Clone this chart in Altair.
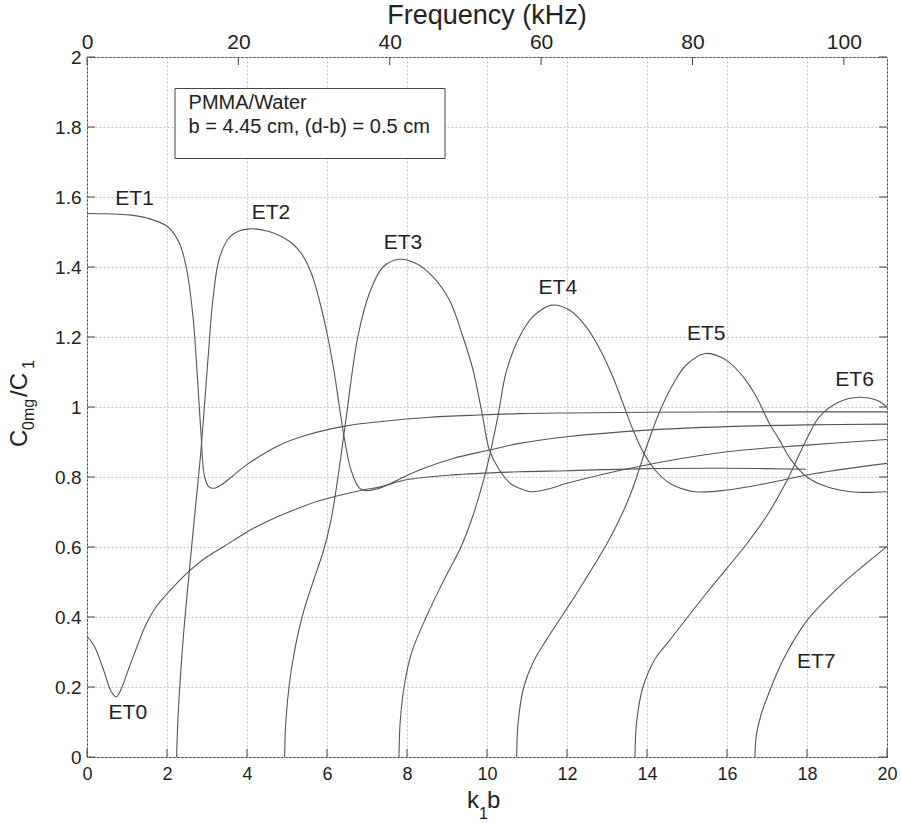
import altair as alt
import pandas as pd

FONT = "Liberation Sans"
INK = "#222222"
LINE = "#555555"
FRAME = "#444444"

# ---------------- data ----------------
curve_names = ["ET0", "ET1", "ET2", "ET3", "ET4", "ET5", "ET6", "ET7"]

et0_k = [0, 0.19, 0.44, 0.6, 0.73, 0.85, 1.06, 1.3, 1.42, 1.55, 1.72, 1.95, 2.25, 2.56, 3.0, 3.4, 4.0, 4.5, 5.0, 5.81, 6.9, 7.31, 7.98, 9.14, 10.81, 12.0, 14.0, 16.0, 17.98]
et0_c = [0.345, 0.315, 0.24, 0.188, 0.172, 0.193, 0.258, 0.33, 0.365, 0.395, 0.428, 0.46, 0.497, 0.532, 0.572, 0.60, 0.643, 0.673, 0.698, 0.732, 0.763, 0.771, 0.792, 0.806, 0.815, 0.818, 0.824, 0.825, 0.822]

et1_k = [0, 0.5, 1.06, 1.5, 2.02, 2.31, 2.48, 2.65, 2.77, 2.85, 2.94, 3.05, 3.19, 3.35, 3.56, 3.98, 4.81, 5.5, 6.48, 7.31, 8.5, 9.8, 10.81, 12, 14, 16, 18, 20]
et1_c = [1.553, 1.552, 1.549, 1.54, 1.515, 1.468, 1.40, 1.258, 1.067, 0.925, 0.80, 0.772, 0.768, 0.777, 0.795, 0.834, 0.891, 0.92, 0.946, 0.958, 0.97, 0.977, 0.981, 0.983, 0.985, 0.986, 0.986, 0.986]

et2_k = [2.24, 2.27, 2.33, 2.42, 2.56, 2.7, 2.85, 3.02, 3.15, 3.31, 3.56, 3.8, 4.06, 4.5, 4.81, 5.1, 5.35, 5.6, 5.82, 6.02, 6.18, 6.31, 6.45, 6.6, 6.81, 6.98, 7.31, 7.48, 8.31, 9.15, 10.06, 10.81, 12, 14, 16, 18, 20]
et2_c = [0, 0.1, 0.22, 0.36, 0.534, 0.7, 0.877, 1.13, 1.31, 1.425, 1.485, 1.503, 1.509, 1.503, 1.49, 1.47, 1.44, 1.385, 1.3, 1.2, 1.1, 1.0, 0.9, 0.82, 0.768, 0.761, 0.768, 0.776, 0.82, 0.853, 0.877, 0.896, 0.915, 0.934, 0.944, 0.949, 0.951]

et3_k = [4.94, 4.97, 5.06, 5.2, 5.4, 5.65, 5.9, 6.1, 6.3, 6.48, 6.77, 7.06, 7.4, 7.81, 8.23, 8.65, 9.06, 9.4, 9.65, 9.88, 10.06, 10.31, 10.6, 10.81, 11.07, 11.5, 12, 13.7, 16, 18, 20]
et3_c = [0, 0.1, 0.21, 0.31, 0.41, 0.50, 0.585, 0.677, 0.82, 0.97, 1.2, 1.325, 1.40, 1.422, 1.41, 1.372, 1.306, 1.2, 1.106, 0.98, 0.877, 0.82, 0.78, 0.768, 0.758, 0.765, 0.782, 0.828, 0.872, 0.891, 0.907]

et4_k = [7.8, 7.83, 7.94, 8.12, 8.48, 8.9, 9.36, 9.65, 9.98, 10.27, 10.48, 10.81, 11.15, 11.62, 12.06, 12.48, 12.81, 13.15, 13.4, 13.65, 13.9, 14.2, 14.6, 15.2, 16, 17, 18.2, 20]
et4_c = [0, 0.1, 0.21, 0.30, 0.40, 0.50, 0.603, 0.69, 0.82, 0.972, 1.1, 1.2, 1.258, 1.291, 1.277, 1.229, 1.168, 1.085, 1.01, 0.935, 0.872, 0.82, 0.78, 0.758, 0.763, 0.782, 0.81, 0.839]

et5_k = [10.74, 10.78, 10.92, 11.15, 11.48, 12.2, 13.0, 13.4, 13.65, 14.0, 14.31, 14.65, 14.98, 15.46, 15.98, 16.4, 16.73, 17.06, 17.31, 17.6, 18.0, 18.5, 19.1, 19.5, 20]
et5_c = [0, 0.1, 0.2, 0.27, 0.334, 0.46, 0.61, 0.70, 0.77, 0.89, 0.985, 1.065, 1.12, 1.153, 1.134, 1.087, 1.03, 0.953, 0.906, 0.849, 0.80, 0.772, 0.758, 0.756, 0.758]

et6_k = [13.7, 13.74, 13.9, 14.2, 14.57, 15.5, 16.5, 17.0, 17.5, 17.98, 18.31, 18.81, 19.31, 19.73, 20]
et6_c = [0, 0.1, 0.2, 0.28, 0.334, 0.47, 0.61, 0.69, 0.79, 0.906, 0.972, 1.015, 1.028, 1.02, 1.0]

et7_k = [16.7, 16.73, 16.85, 16.98, 17.4, 17.98, 18.81, 20]
et7_c = [0, 0.06, 0.12, 0.163, 0.277, 0.387, 0.487, 0.601]

curve_k = [et0_k, et1_k, et2_k, et3_k, et4_k, et5_k, et6_k, et7_k]
curve_c = [et0_c, et1_c, et2_c, et3_c, et4_c, et5_c, et6_c, et7_c]

label_text = ["ET0", "ET1", "ET2", "ET3", "ET4", "ET5", "ET6", "ET7"]
label_k = [1.02, 1.19, 4.6, 7.9, 11.77, 15.48, 19.19, 18.23]
label_c = [0.125, 1.594, 1.553, 1.468, 1.339, 1.21, 1.077, 0.272]

box_lines = ["PMMA/Water", "b = 4.45 cm, (d-b) = 0.5 cm"]
box_line_k = [2.54, 2.54]
box_line_c = [1.87, 1.80]
box_k = [2.2, 8.95]
box_c = [1.71, 1.91]

k_ticks = [0, 2, 4, 6, 8, 10, 12, 14, 16, 18, 20]
c_ticks = [0, 0.2, 0.4, 0.6, 0.8, 1.0, 1.2, 1.4, 1.6, 1.8, 2.0]
f_ticks = [0, 20, 40, 60, 80, 100]
f_max = 105.7

# ---------------- tables ----------------
rows = []
for name, ks, cs in zip(curve_names, curve_k, curve_c):
    for i, (k, c) in enumerate(zip(ks, cs)):
        rows.append({"curve": name, "k": k, "c": c, "i": i})
df = pd.DataFrame(rows)

W, H = 800, 700
xs = alt.Scale(domain=[0, 20], nice=False, zero=False)
ys = alt.Scale(domain=[0, 2], nice=False, zero=False)

x_axis = alt.Axis(values=k_ticks, title=None, labelFont=FONT, labelFontSize=18,
                  labelColor=INK, labelPadding=8, tickSize=0, domain=False,
                  grid=True, gridColor="#c4c4c4", gridDash=[2, 2], gridWidth=1,
                  labelFlush=False)
y_axis = alt.Axis(values=c_ticks, title=None, labelFont=FONT, labelFontSize=19,
                  labelColor=INK, labelPadding=6, tickSize=0, domain=False,
                  grid=True, gridColor="#c4c4c4", gridDash=[2, 2], gridWidth=1,
                  format=".1~f", labelFlush=False)

lines = alt.Chart(df).mark_line(color=LINE, strokeWidth=1.1, interpolate="catmull-rom").encode(
    x=alt.X("k:Q", scale=xs, axis=x_axis),
    y=alt.Y("c:Q", scale=ys, axis=y_axis),
    detail="curve:N",
    order="i:Q",
)

kt = pd.DataFrame({"k": k_ticks})
ct = pd.DataFrame({"c": c_ticks})
bottom_ticks = alt.Chart(kt).mark_rule(color=FRAME, strokeWidth=1).encode(
    x=alt.X("k:Q", scale=xs), y=alt.value(H), y2=alt.value(H - 8))
left_ticks = alt.Chart(ct).mark_rule(color=FRAME, strokeWidth=1).encode(
    y=alt.Y("c:Q", scale=ys), x=alt.value(0), x2=alt.value(8))
right_ticks = alt.Chart(ct).mark_rule(color=FRAME, strokeWidth=1).encode(
    y=alt.Y("c:Q", scale=ys), x=alt.value(W - 8), x2=alt.value(W))

box_df = pd.DataFrame({"k": [box_k[0]], "k2": [box_k[1]], "c": [box_c[0]], "c2": [box_c[1]]})
box = alt.Chart(box_df).mark_rect(fill="white", stroke=FRAME, strokeWidth=1).encode(
    x=alt.X("k:Q", scale=xs), x2="k2:Q", y=alt.Y("c:Q", scale=ys), y2="c2:Q")

box_txt_df = pd.DataFrame({"k": box_line_k, "c": box_line_c, "t": box_lines})
box_txt = alt.Chart(box_txt_df).mark_text(align="left", baseline="middle", font=FONT,
                                          fontSize=20, color=INK).encode(
    x=alt.X("k:Q", scale=xs), y=alt.Y("c:Q", scale=ys), text="t:N")

lab_df = pd.DataFrame({"k": label_k, "c": label_c, "t": label_text})
labels = alt.Chart(lab_df).mark_text(align="center", baseline="middle", font=FONT,
                                     fontSize=21, color=INK).encode(
    x=alt.X("k:Q", scale=xs), y=alt.Y("c:Q", scale=ys), text="t:N")

one = pd.DataFrame({"a": [0]})


def piece(txt, px, py, size, angle=0):
    kw = dict(align="left", baseline="alphabetic", font=FONT, fontSize=size, color=INK)
    if angle:
        kw["angle"] = angle
    return alt.Chart(one).mark_text(**kw).encode(
        x=alt.value(px), y=alt.value(py), text=alt.value(txt))


# axis titles with real subscripts
y_title = [
    piece("C", -60, 390, 24, 270),
    piece("0mg", -53, 373, 16, 270),
    piece("/C", -60, 340, 24, 270),
    piece("1", -53, 312, 16, 270),
]
x_title = [
    piece("k", 380, 751, 24),
    piece("1", 392, 762, 16),
    piece("b", 400, 751, 24),
]
top_title = alt.Chart(one).mark_text(align="center", baseline="alphabetic", font=FONT,
                                     fontSize=27, color=INK).encode(
    x=alt.value(W / 2), y=alt.value(-33), text=alt.value("Frequency (kHz)"))

inner = alt.layer(lines, bottom_ticks, left_ticks, right_ticks, box, box_txt, labels,
                  top_title, *y_title, *x_title)

ft = pd.DataFrame({"f": f_ticks})
top = alt.Chart(ft).mark_rule(color=FRAME, strokeWidth=1).encode(
    x=alt.X("f:Q", scale=alt.Scale(domain=[0, f_max], nice=False, zero=False),
            axis=alt.Axis(orient="top", values=f_ticks, title=None, labelFont=FONT,
                          labelFontSize=21, labelColor=INK, labelPadding=5, tickSize=0,
                          domain=False, grid=False, labelFlush=False)),
    y=alt.value(0), y2=alt.value(8))

chart = alt.layer(inner, top).resolve_scale(x="independent").properties(
    width=W, height=H,
    padding={"left": 87, "top": 57, "right": 14, "bottom": 66},
    autosize=alt.AutoSizeParams(type="none"),
).configure_view(stroke=FRAME, strokeWidth=1)

chart.save("out.html", embed_options={"renderer": "svg", "actions": False})
